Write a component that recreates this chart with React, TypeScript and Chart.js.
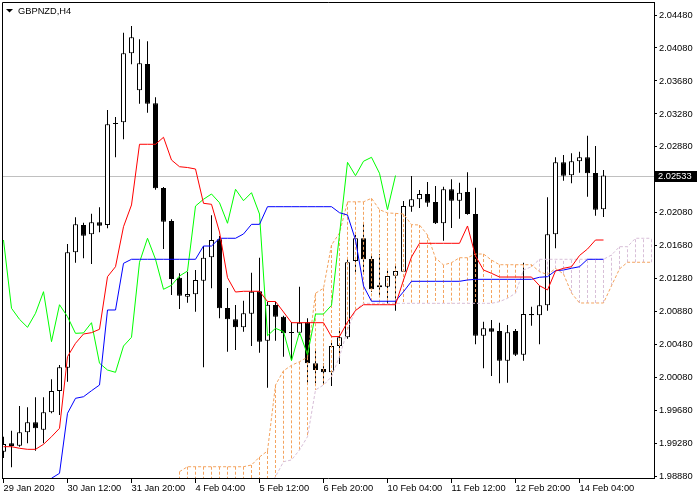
import React, { useEffect, useRef } from "react";
import { Chart, registerables } from "chart.js";

Chart.register(...registerables);

const FONT = "'Liberation Sans', Arial, sans-serif";
const symbolTitle = "GBPNZD,H4";
const lastPrice = 2.02533;

const timeLabelBars = [0, 8, 16, 24, 32, 40, 48, 56, 64, 72];
const timeLabels = [
  "29 Jan 2020", "30 Jan 12:00", "31 Jan 20:00", "4 Feb 04:00", "5 Feb 12:00",
  "6 Feb 20:00", "10 Feb 04:00", "11 Feb 12:00", "12 Feb 20:00", "14 Feb 04:00",
];
const yTickValues = [
  1.9888, 1.9928, 1.9968, 2.0008, 2.0048, 2.0088, 2.0128, 2.0168,
  2.0208, 2.0248, 2.0288, 2.0328, 2.0368, 2.0408, 2.0448,
];

const opens = [
  1.99183, 1.99285, 1.99256, 1.99419, 1.99540, 1.99450, 1.99661, 1.99920, 2.00202, 2.01602,
  2.01933, 2.01820, 2.01966, 2.01933, 2.03167, 2.03179, 2.04016, 2.03567, 2.03886, 2.03409,
  2.02382, 2.01981, 2.01294, 2.01063, 2.01092, 2.01257, 2.01541, 2.01760, 2.00926, 2.00789,
  2.00692, 2.00857, 2.01129, 2.00530, 2.00963, 2.00821, 2.00627, 2.00627, 2.00753, 2.00256,
  2.00186, 2.00146, 2.00465, 2.00571, 2.01496, 2.01772, 2.01521, 2.01177, 2.01185, 2.01318,
  2.01367, 2.02155, 2.02245, 2.02309, 2.02212, 2.01954, 2.02366, 2.02228, 2.02333, 2.02066,
  2.00590, 2.00680, 2.00647, 2.00287, 2.00647, 2.00360, 2.00838, 2.00838, 2.00959, 2.01820,
  2.02693, 2.02536, 2.02706, 2.02754, 2.02564, 2.02123,
];
const highs = [
  1.99365, 1.99438, 1.99738, 1.99722, 1.99843, 1.99843, 2.00061, 2.00235, 2.01703, 2.02026,
  2.01961, 2.02070, 2.02148, 2.03328, 2.03243, 2.04265, 2.04347, 2.04185, 2.04161, 2.03482,
  2.02394, 2.02002, 2.01347, 2.01367, 2.01387, 2.01678, 2.02051, 2.01800, 2.01169, 2.00963,
  2.01015, 2.01354, 2.01536, 2.00999, 2.01003, 2.00833, 2.00756, 2.01185, 2.00801, 2.00417,
  2.00256, 2.00502, 2.00687, 2.01521, 2.01812, 2.01954, 2.01578, 2.01581, 2.01396, 2.01456,
  2.02224, 2.02527, 2.02357, 2.02455, 2.02406, 2.02398, 2.02487, 2.02446, 2.02572, 2.02385,
  2.00760, 2.00781, 2.00748, 2.00720, 2.00672, 2.01476, 2.00942, 2.01197, 2.02269, 2.02754,
  2.02782, 2.02803, 2.02822, 2.03016, 2.02891, 2.02600,
];
const lows = [
  1.99107, 1.98994, 1.99244, 1.99285, 1.99195, 1.99285, 1.99649, 1.99628, 2.00032, 2.01476,
  2.01529, 2.01460, 2.01844, 2.01893, 2.02754, 2.02972, 2.03882, 2.03404, 2.03295, 2.02361,
  2.01642, 2.01084, 2.00914, 2.00991, 2.00881, 2.00207, 2.01165, 2.00801, 2.00396, 2.00417,
  2.00639, 2.00465, 2.00384, 1.99960, 2.00530, 2.00336, 2.00296, 2.00599, 2.00013, 2.00013,
  1.99992, 1.99980, 2.00247, 2.00554, 2.01354, 2.01354, 2.01120, 2.01084, 2.00975, 2.00894,
  2.01363, 2.02094, 2.02139, 2.02155, 2.01945, 2.01743, 2.01897, 2.02009, 2.02058, 2.00486,
  2.00195, 2.00102, 2.00013, 2.00020, 2.00344, 2.00287, 2.00712, 2.00486, 2.00894, 2.01650,
  2.02470, 2.02439, 2.02567, 2.02276, 2.02046, 2.02030,
];
const closes = [
  1.99277, 1.99252, 1.99419, 1.99540, 1.99467, 1.99661, 1.99920, 2.00207, 2.01602, 2.01941,
  2.01803, 2.01966, 2.01924, 2.03154, 2.03158, 2.04016, 2.04210, 2.03894, 2.03404, 2.02378,
  2.01973, 2.01278, 2.01075, 2.01096, 2.01266, 2.01536, 2.01751, 2.00923, 2.00789, 2.00692,
  2.00862, 2.01124, 2.00518, 2.00966, 2.00821, 2.00619, 2.00624, 2.00748, 2.00256, 2.00174,
  2.00146, 2.00465, 2.00571, 2.01481, 2.01772, 2.01517, 2.01153, 2.01202, 2.01314, 2.01375,
  2.02163, 2.02245, 2.02309, 2.02203, 2.01954, 2.02366, 2.02228, 2.02325, 2.02066, 2.00590,
  2.00680, 2.00639, 2.00287, 2.00632, 2.00360, 2.00853, 2.00853, 2.00959, 2.01820, 2.02693,
  2.02531, 2.02706, 2.02754, 2.02560, 2.02119, 2.02533,
];

const tenkan = [
  1.99244, 1.99244, 1.99225, 1.99212, 1.99212, 1.99273, 1.99365, 1.99467, 2.00336, 2.00498,
  2.00611, 2.00627, 2.00668, 2.01306, 2.01427, 2.01912, 2.02176, 2.02912, 2.02912, 2.02912,
  2.02997, 2.02721, 2.02640, 2.02630, 2.02612, 2.02196, 2.02184, 2.01848, 2.01294, 2.01120,
  2.01129, 2.01129, 2.01129, 2.01005, 2.01005, 2.00878, 2.00748, 2.00748, 2.00748, 2.00748,
  2.00748, 2.00578, 2.00581, 2.00756, 2.00896, 2.00966, 2.00966, 2.00966, 2.00966, 2.00966,
  2.01266, 2.01545, 2.01711, 2.01711, 2.01711, 2.01711, 2.01711, 2.01711, 2.01921, 2.01557,
  2.01387, 2.01347, 2.01302, 2.01302, 2.01302, 2.01302, 2.01302, 2.01197, 2.01145, 2.01375,
  2.01408, 2.01427, 2.01563, 2.01642, 2.01751, 2.01751,
];
const kijun = [
  null, null, null, null, null, 1.98695, 1.98861, 1.98921, 1.99649, 1.99831,
  1.99850, 1.99923, 1.99992, 2.00902, 2.00902, 2.01468, 2.01517, 2.01517, 2.01517, 2.01517,
  2.01517, 2.01517, 2.01517, 2.01517, 2.01517, 2.01678, 2.01678, 2.01772, 2.01772, 2.01772,
  2.01824, 2.01941, 2.01941, 2.02155, 2.02155, 2.02155, 2.02155, 2.02155, 2.02155, 2.02155,
  2.02155, 2.02155, 2.02082, 2.02054, 2.01751, 2.01193, 2.01008, 2.01008, 2.01008, 2.01008,
  2.01124, 2.01250, 2.01250, 2.01250, 2.01250, 2.01250, 2.01250, 2.01250, 2.01266, 2.01274,
  2.01274, 2.01274, 2.01274, 2.01274, 2.01274, 2.01274, 2.01274, 2.01299, 2.01306, 2.01379,
  2.01387, 2.01408, 2.01427, 2.01517, 2.01517, 2.01517,
];
const senkouA = [
  null, null, null, null, null, null, null, null, null, null,
  null, null, null, null, null, null, null, null, null, null,
  null, null, 1.98941, 1.99001, 1.99001, 1.99001, 1.99001, 1.99001, 1.99001, 1.99001,
  1.99001, 1.99022, 1.99119, 1.99192, 1.99992, 2.00165, 2.00231, 2.00275, 2.00330, 2.01105,
  2.01165, 2.01690, 2.01836, 2.02214, 2.02214, 2.02214, 2.02257, 2.02119, 2.02079, 2.02074,
  2.02066, 2.01937, 2.01933, 2.01812, 2.01533, 2.01448, 2.01476, 2.01536, 2.01536, 2.01581,
  2.01581, 2.01508, 2.01451, 2.01451, 2.01451, 2.01451, 2.01451, 2.01367, 2.01331, 2.01405,
  2.01339, 2.01108, 2.00987, 2.00987, 2.00987, 2.00987, 2.01196, 2.01400, 2.01481, 2.01481,
  2.01481, 2.01481,
];
const senkouB = [
  null, null, null, null, null, null, null, null, null, null,
  null, null, null, null, null, null, null, null, null, null,
  null, null, 1.98598, 1.98598, 1.98598, 1.98598, 1.98598, 1.98598, 1.98598, 1.98598,
  1.98598, 1.98598, 1.98598, 1.98719, 1.98880, 1.99062, 1.99083, 1.99204, 1.99365, 1.99932,
  1.99992, 2.00093, 2.00336, 2.00659, 2.00902, 2.00983, 2.00983, 2.00983, 2.00983, 2.00983,
  2.00983, 2.00983, 2.00983, 2.00983, 2.00983, 2.00983, 2.00983, 2.00983, 2.00983, 2.00983,
  2.00983, 2.00983, 2.01003, 2.01044, 2.01105, 2.01387, 2.01427, 2.01517, 2.01517, 2.01517,
  2.01517, 2.01517, 2.01517, 2.01517, 2.01517, 2.01517, 2.01569, 2.01670, 2.01670, 2.01772,
  2.01772, 2.01772,
];
// Chikou span: the closes drawn 26 bars back
const chikouShift = 26;

const RED = "#FF0000";
const BLUE = "#0000FF";
const LIME = "#00FF00";
const SANDY = "#F4A460";
const THISTLE = "#D8BFD8";
const DOT = [3, 2];

export default function App() {
  const ref = useRef<HTMLCanvasElement>(null);

  useEffect(() => {
    const canvas = ref.current;
    if (!canvas) return;

    const xy = (arr: (number | null)[]) => arr.map((v, i) => ({ x: i, y: v }));

    // vertical hatch strokes between the two spans, as broken line datasets
    const hatchUp: any[] = [];
    const hatchDown: any[] = [];
    senkouA.forEach((a, i) => {
      const b = senkouB[i];
      if (a == null || b == null) return;
      const target = a >= b ? hatchUp : hatchDown;
      target.push({ x: i, y: a }, { x: i, y: b }, { x: i, y: null });
    });

    const bodies = opens.map((o, i) => ({ x: i, y: [o, closes[i]] }));
    const bodyColors = opens.map((o, i) => (closes[i] >= o ? "#FFFFFF" : "#000000"));
    const wicks = lows.map((l, i) => ({ x: i, y: [l, highs[i]] }));
    const chikou = closes.slice(chikouShift).map((c, i) => ({ x: i, y: c }));

    const decor = {
      id: "decor",
      beforeDraw(chart: any) {
        const { ctx, width, height } = chart;
        ctx.save();
        ctx.fillStyle = "#FFFFFF";
        ctx.fillRect(0, 0, width, height);
        ctx.restore();
      },
      beforeDatasetsDraw(chart: any) {
        const { ctx, chartArea: a, scales } = chart;
        const y = Math.round(scales.y.getPixelForValue(lastPrice)) + 0.5;
        ctx.save();
        ctx.strokeStyle = "#C0C0C0";
        ctx.lineWidth = 1;
        ctx.beginPath();
        ctx.moveTo(a.left, y);
        ctx.lineTo(a.right, y);
        ctx.stroke();
        ctx.restore();
      },
      afterDraw(chart: any) {
        const { ctx, chartArea: a, scales } = chart;
        ctx.save();
        ctx.strokeStyle = "#000";
        ctx.lineWidth = 1;
        ctx.beginPath();
        ctx.moveTo(a.left + 0.5, a.bottom);
        ctx.lineTo(a.left + 0.5, a.top + 0.5);
        ctx.lineTo(a.right, a.top + 0.5);
        ctx.stroke();

        ctx.fillStyle = "#000";
        ctx.beginPath();
        ctx.moveTo(6, 9);
        ctx.lineTo(13, 9);
        ctx.lineTo(9.5, 12.5);
        ctx.closePath();
        ctx.fill();
        ctx.font = `9.3px ${FONT}`;
        ctx.textAlign = "left";
        ctx.textBaseline = "alphabetic";
        ctx.fillText(symbolTitle, 18, 14);

        const py = scales.y.getPixelForValue(lastPrice);
        ctx.fillStyle = "#000";
        ctx.fillRect(655, Math.round(py) - 5, 42, 11);
        ctx.fillStyle = "#FFF";
        ctx.textBaseline = "middle";
        ctx.fillText(lastPrice.toFixed(5), 658, py + 0.5);
        ctx.restore();
      },
    };

    const lineDs = (label: string, data: any[], color: string, order: number, dash?: number[]) =>
      ({
        type: "line",
        label,
        data,
        borderColor: color,
        borderWidth: 1,
        borderDash: dash || [],
        pointRadius: 0,
        tension: 0,
        spanGaps: false,
        fill: false,
        order,
      } as any);

    const chart = new Chart(canvas, {
      type: "bar",
      data: {
        datasets: [
          lineDs("Tenkan-sen", xy(tenkan), RED, 1),
          lineDs("Kijun-sen", xy(kijun), BLUE, 1),
          lineDs("Chikou Span", chikou, LIME, 1),
          lineDs("Senkou Span A", xy(senkouA), SANDY, 2, DOT),
          lineDs("Senkou Span B", xy(senkouB), THISTLE, 2, DOT),
          lineDs("Cloud up", hatchUp, SANDY, 3, DOT),
          lineDs("Cloud down", hatchDown, THISTLE, 3, DOT),
          {
            type: "bar",
            label: "Bodies",
            data: bodies,
            backgroundColor: bodyColors,
            borderColor: "#000000",
            borderWidth: 1,
            borderSkipped: false,
            barThickness: 5,
            minBarLength: 1,
            grouped: false,
            inflateAmount: 0,
            order: 4,
          } as any,
          {
            type: "bar",
            label: "Wicks",
            data: wicks,
            backgroundColor: "#000000",
            borderWidth: 0,
            barThickness: 1,
            grouped: false,
            inflateAmount: 0,
            order: 5,
          } as any,
        ],
      },
      options: {
        animation: false,
        responsive: false,
        maintainAspectRatio: false,
        devicePixelRatio: 1,
        events: [],
        layout: { padding: { left: 2, top: 2, right: 0, bottom: 0 } },
        plugins: {
          legend: { display: false },
          tooltip: { enabled: false },
          title: { display: false },
        },
        scales: {
          x: {
            type: "linear",
            position: "bottom",
            offset: false,
            bounds: "data",
            min: -0.1875,
            max: 81.3125,
            afterFit: (s: any) => {
              s.height = 22;
              s.paddingLeft = 0;
              s.paddingRight = 0;
            },
            afterBuildTicks: (s: any) => {
              s.ticks = timeLabelBars.map((v) => ({ value: v }));
            },
            ticks: {
              autoSkip: false,
              maxRotation: 0,
              minRotation: 0,
              align: "start",
              padding: 0,
              color: "#000",
              font: { family: FONT, size: 9.3 },
              callback: (_v: any, i: number) => timeLabels[i],
            },
            grid: {
              offset: false,
              drawOnChartArea: false,
              drawTicks: true,
              tickLength: 5,
              color: "#000",
            },
            border: { display: true, color: "#000" },
          } as any,
          y: {
            type: "linear",
            position: "right",
            bounds: "data",
            beginAtZero: false,
            min: 1.988643,
            max: 2.046377,
            afterFit: (s: any) => {
              s.width = 46;
              s.paddingTop = 0;
              s.paddingBottom = 0;
            },
            afterBuildTicks: (s: any) => {
              s.ticks = yTickValues.map((v) => ({ value: v }));
            },
            ticks: {
              padding: 2,
              color: "#000",
              font: { family: FONT, size: 9.3 },
              callback: (v: any) => Number(v).toFixed(5),
            },
            grid: {
              drawOnChartArea: false,
              drawTicks: true,
              tickLength: 3,
              color: "#000",
            },
            border: { display: true, color: "#000" },
          } as any,
        },
      },
      plugins: [decor],
    });

    return () => chart.destroy();
  }, []);

  return (
    <div style={{ position: "absolute", left: 0, top: 0, width: 700, height: 500, background: "#fff" }}>
      <canvas ref={ref} width={700} height={500} style={{ display: "block", width: 700, height: 500 }} />
    </div>
  );
}
